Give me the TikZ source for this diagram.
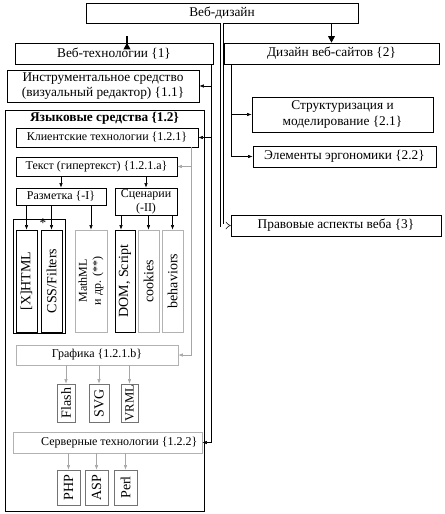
\documentclass[tikz,border=0pt]{standalone}
\usepackage{fontspec}
\setmainfont{Liberation Serif}
\usetikzlibrary{arrows.meta,fit,calc}

\tikzset{
  box/.style={draw, fill=white, inner sep=0pt},
  txt/.style={label={[align=center, inner sep=0pt]center:#1}},
  stxt/.style={label={[align=center, inner sep=0pt, font=\fontsize{9}{10.5}\selectfont]center:#1}},
  vtxt/.style={label={[rotate=90, align=center, inner sep=0pt, font=\fontsize{10.5}{12}\selectfont]center:#1}},
  softbox/.style={box, draw=black!30},
  midbox/.style={box, draw=black!55},
  arr/.style={-{Latex[length=3.5pt,width=2.6pt]}},
  softarr/.style={arr, draw=black!35},
  bigarr/.style={line width=1.3pt, -{Triangle[length=5pt,width=5pt]}}
}

\begin{document}
\begin{tikzpicture}[x=0.75pt, y=-0.75pt, font=\fontsize{10}{11.5}\selectfont]
    \useasboundingbox (0,0) rectangle (445,514);
    % верхний уровень
    \node[box, fit={(86,3) (358,23)}, txt={Веб-дизайн}] (top) {};
    \node[box, fit={(15,43) (213,64)}, txt={Веб-технологии \{1\}}] (tech) {};
    \node[box, fit={(224,43) (439,64)}, txt={Дизайн веб-сайтов \{2\}}] (design) {};
    \node[box, fit={(7,70) (199,102)}, txt={Инструментальное средство\\(визуальный редактор) \{1.1\}}] (tool) {};
    % языковые средства
    \node[draw, line width=0.7pt, inner sep=0pt, fit={(5,110) (204,511)},
      label={[anchor=north, inner sep=2pt, font=\fontsize{10}{11}\selectfont\bfseries]north:Языковые средства \{1.2\}}] (lang) {};
    \node[box, fit={(16,128) (198,147)}, stxt={Клиентские технологии \{1.2.1\}}] (client) {};
    \node[box, fit={(16,157) (177,176)}, stxt={Текст (гипертекст) \{1.2.1.a\}}] (text) {};
    \node[box, fit={(16,188) (106,205)}, stxt={Разметка \{-I\}}] (markup) {};
    \node[box, fit={(115,188) (177,215)}, stxt={Сценарии\\(-II)}] (scripts) {};
    \node[draw, inner sep=0pt, fit={(13,219) (65,333)}] (group) {};
    \node[inner sep=0pt] (star) at (43,223) {*};
    \node[box, fit={(16,230) (37,332)}, vtxt={[X]HTML}] (html) {};
    \node[box, fit={(41,230) (62,332)}, vtxt={CSS/Filters}] (css) {};
    \node[softbox, fit={(75,230) (107,332)},
      label={[rotate=90, align=center, inner sep=0pt, font=\fontsize{9}{10.5}\selectfont]center:{MathML\\и др. (**)}}] (mathml) {};
    \node[box, fit={(115,230) (135,332)}, vtxt={DOM, Script}] (dom) {};
    \node[softbox, fit={(138,230) (159,332)}, vtxt={cookies}] (cookies) {};
    \node[softbox, fit={(162,230) (183,332)}, vtxt={behaviors}] (behav) {};
    % графика
    \node[softbox, fit={(16,345) (178,365)}, stxt={Графика \{1.2.1.b\}}] (graph) {};
    \node[midbox, fit={(57,384) (75,422)}, vtxt={Flash}] (flash) {};
    \node[midbox, fit={(89,384) (109,422)}, vtxt={SVG}] (svg) {};
    \node[midbox, fit={(121,384) (138,422)},
      label={[rotate=90, inner sep=0pt, font=\fontsize{9.5}{10}\selectfont]center:VRML}] (vrml) {};
    % серверные технологии
    \node[softbox, fit={(13,432) (202,453)},
      label={[anchor=east, xshift=-3.5pt, inner sep=0pt, font=\fontsize{9}{10.5}\selectfont]east:Серверные технологии \{1.2.2\}}] (server) {};
    \node[midbox, fit={(57,470) (80,505)}, vtxt={PHP}] (php) {};
    \node[midbox, fit={(85,470) (108,505)}, vtxt={ASP}] (asp) {};
    \node[midbox, fit={(114,470) (137,505)}, vtxt={Perl}] (perl) {};
    % дизайн веб-сайтов
    \node[box, fit={(252,97) (433,132)}, txt={Структуризация и\\моделирование \{2.1\}}] (struct) {};
    \node[box, fit={(253,146) (436,167)}, txt={Элементы эргономики \{2.2\}}] (ergo) {};
    \node[box, fit={(231,215) (441,236)}, txt={Правовые аспекты веба \{3\}}] (legal) {};
    % связи верхнего уровня
    \draw[bigarr] ($(tech.north)+(13,0)$ |- top.south) -- ($(tech.north)+(13,0)$);
    \draw[bigarr] (top.south -| design.north) -- (design.north);
    \draw[double, double distance=1.6pt, -Implies] (top.south) |- (legal.west);
    % ветвь веб-технологий
    \coordinate (t1) at ($(tech.south east)+(-2,0)$);
    \draw[arr] (t1) |- (server.east);
    \draw[arr] (t1 |- tool.east) -- (tool.east);
    \draw[arr] (t1 |- client.east) -- (client.east);
    \coordinate (c1) at ($(client.south east)+(-7,0)$);
    \draw[softarr] (c1) |- (graph.east);
    \draw[softarr] (c1 |- text.east) -- (text.east);
    \draw[arr] (text.south -| markup.north) -- (markup.north);
    \draw[arr] (text.south -| scripts.north) -- (scripts.north);
    \foreach \n in {html,css,mathml}
      \draw[arr] (markup.south -| \n.north) -- (\n.north);
    \draw[arr] (scripts.south -| 121,0) -- (121,0 |- dom.north);
    \foreach \n in {cookies,behav}
      \draw[arr] (scripts.south -| \n.north) -- (\n.north);
    \foreach \n in {flash,svg,vrml}
      \draw[softarr] (graph.south -| \n.north) -- (\n.north);
    \foreach \n in {php,asp,perl}
      \draw[softarr] (server.south -| \n.north) -- (\n.north);
    % ветвь дизайна
    \coordinate (d1) at ($(design.south west)+(8,0)$);
    \draw[arr] (d1) |- (ergo.west);
    \draw[arr] (d1 |- struct.west) -- (struct.west);
  \end{tikzpicture}
\end{document}
